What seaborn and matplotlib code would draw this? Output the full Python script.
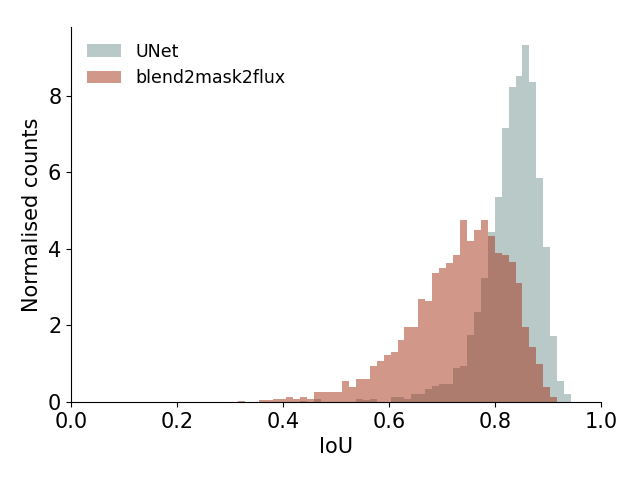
import numpy as np
import pandas as pd
import seaborn as sns
import matplotlib
matplotlib.use("Agg")
import matplotlib.pyplot as plt

# histogram binning (shared by both models)
bin_lo = 0.3148
bin_width = 0.0131

# normalised counts per bin
# blend2mask2flux: bins starting at bin_lo
b2m2f_counts = [
    0.03, 0.00, 0.00, 0.05, 0.05, 0.07, 0.07, 0.12, 0.07, 0.12,
    0.09, 0.25, 0.25, 0.25, 0.25, 0.56, 0.38, 0.61, 0.61, 0.93,
    1.06, 1.24, 1.32, 1.61, 1.95, 1.97, 2.68, 2.65, 3.36, 3.51,
    3.64, 3.85, 4.77, 4.22, 4.50, 4.77, 4.35, 3.89, 3.85, 3.67,
    3.12, 1.97, 1.45, 0.99, 0.40, 0.14,
]
# UNet: bins starting 9 bins after bin_lo
unet_offset = 9
unet_counts = [
    0.02, 0.00, 0.07, 0.00, 0.00, 0.00, 0.00, 0.01, 0.07, 0.04,
    0.09, 0.01, 0.01, 0.14, 0.12, 0.07, 0.20, 0.22, 0.33, 0.41,
    0.46, 0.48, 0.90, 0.95, 1.74, 2.34, 3.25, 4.45, 5.35, 7.17,
    8.24, 8.53, 9.34, 8.37, 5.85, 4.06, 1.72, 0.54, 0.20,
]

n_bins = max(len(b2m2f_counts), unet_offset + len(unet_counts))
bin_hi = bin_lo + bin_width * n_bins
centres = bin_lo + bin_width * (np.arange(n_bins) + 0.5)

unet_w = np.zeros(n_bins)
unet_w[unet_offset:unet_offset + len(unet_counts)] = unet_counts
b2m2f_w = np.zeros(n_bins)
b2m2f_w[:len(b2m2f_counts)] = b2m2f_counts

df = pd.DataFrame({
    "IoU": np.concatenate([centres, centres]),
    "weight": np.concatenate([unet_w, b2m2f_w]),
    "model": ["UNet"] * n_bins + ["blend2mask2flux"] * n_bins,
})

colours = {"UNet": "#759593", "blend2mask2flux": "#a53115"}

fig, ax = plt.subplots(figsize=(6.4, 4.8), dpi=100)
for name in ["UNet", "blend2mask2flux"]:
    sub = df[df["model"] == name]
    sns.histplot(data=sub, x="IoU", weights="weight", bins=n_bins,
                 binrange=(bin_lo, bin_hi), stat="count", element="bars",
                 color=colours[name], alpha=0.5, linewidth=0, ax=ax,
                 label=name)

ax.set_xlim(0, 1)
ax.set_xlabel("IoU", fontsize=15)
ax.set_ylabel("Normalised counts", fontsize=15)
ax.tick_params(labelsize=15)
ax.legend(loc="upper left", frameon=False, fontsize=12.5)
sns.despine(ax=ax)

fig.subplots_adjust(left=0.111, right=0.939, bottom=0.1625, top=0.944)
fig.savefig("out.png", dpi=100)
